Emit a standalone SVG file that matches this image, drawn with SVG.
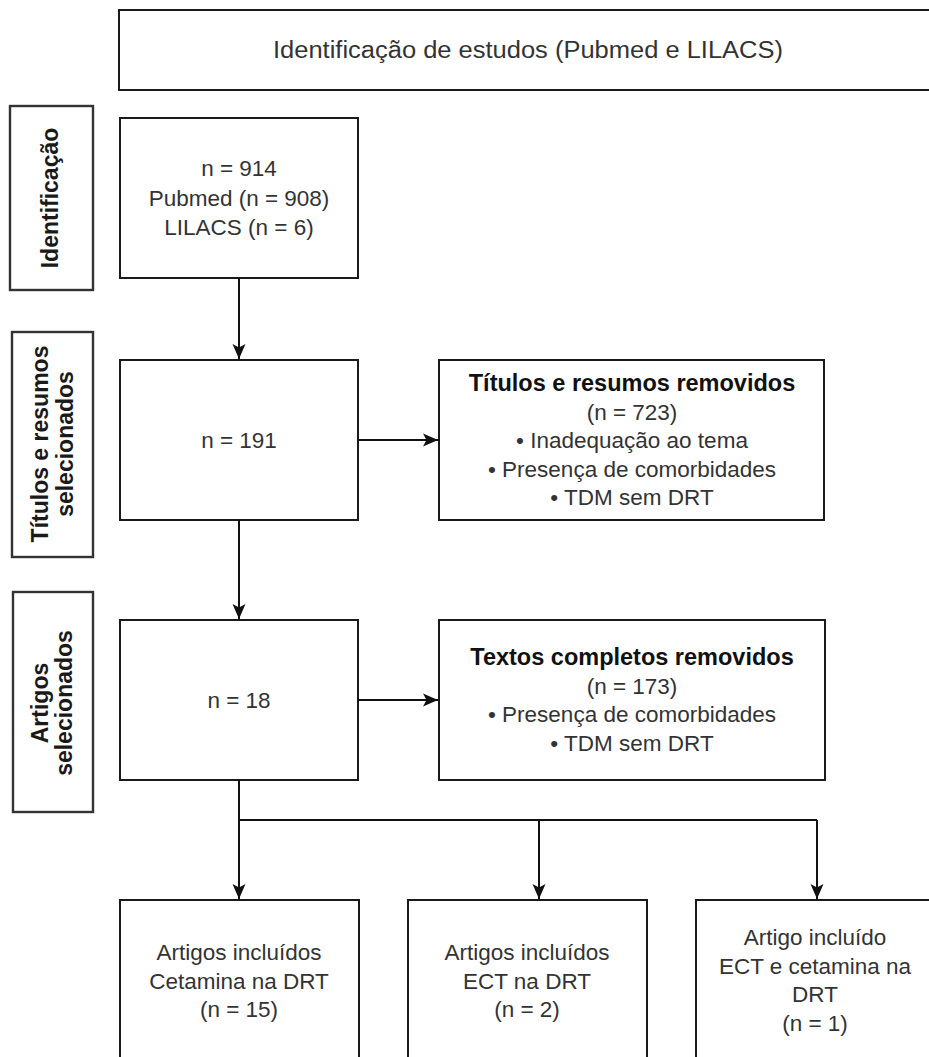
<svg xmlns="http://www.w3.org/2000/svg" width="929" height="1057" viewBox="0 0 929 1057">
<style>
.box{fill:#fff;stroke:#1a1a1a;stroke-width:2}
.side{fill:#fff;stroke:#333;stroke-width:2.4}
.t{font-family:"Liberation Sans",Arial,sans-serif;font-size:22.5px;fill:#333;text-anchor:middle}
.b{font-family:"Liberation Sans",Arial,sans-serif;font-size:23.5px;font-weight:bold;fill:#111;text-anchor:middle}
.s{font-family:"Liberation Sans",Arial,sans-serif;font-size:23px;font-weight:bold;fill:#1a1a1a;text-anchor:middle}
.c{fill:none;stroke:#111;stroke-width:2}
</style>
<defs>
<marker id="arr" markerUnits="userSpaceOnUse" markerWidth="16" markerHeight="16" refX="15" refY="8" orient="auto" viewBox="0 0 16 16">
<path d="M0,1.5 L15,8 L0,14.5 L3.5,8 z" fill="#111"/>
</marker>
</defs>
<rect width="929" height="1057" fill="#fff"/>

<g id="header">
<rect class="box" x="119" y="10" width="820" height="80"/>
<text class="t" x="528" y="58" textLength="510" lengthAdjust="spacingAndGlyphs" style="font-size:23px">Identificação de estudos (Pubmed e LILACS)</text>
</g>

<g id="label-identificacao">
<rect class="side" x="10" y="106" width="83" height="184"/>
<text class="s" transform="translate(58,198) rotate(-90)">Identificação</text>
</g>
<g id="label-titulos">
<rect class="side" x="12" y="332" width="81" height="225"/>
<text class="s" transform="translate(48,444) rotate(-90)">Títulos e resumos<tspan x="0" dy="25">selecionados</tspan></text>
</g>
<g id="label-artigos">
<rect class="side" x="13" y="592" width="80" height="220"/>
<text class="s" transform="translate(48,703) rotate(-90)">Artigos<tspan x="0" dy="24">selecionados</tspan></text>
</g>

<g id="n914">
<rect class="box" x="120" y="118" width="238" height="160"/>
<text class="t" x="239" y="176">n = 914</text>
<text class="t" x="239" y="205.5">Pubmed (n = 908)</text>
<text class="t" x="239" y="235">LILACS (n = 6)</text>
</g>

<g id="n191">
<rect class="box" x="120" y="360" width="238" height="160"/>
<text class="t" x="239" y="448">n = 191</text>
</g>

<g id="removidos1">
<rect class="box" x="439" y="360" width="385" height="160"/>
<text class="b" x="632" y="391">Títulos e resumos removidos</text>
<text class="t" x="632" y="419.5">(n = 723)</text>
<text class="t" x="632" y="448">• Inadequação ao tema</text>
<text class="t" x="632" y="476.5">• Presença de comorbidades</text>
<text class="t" x="632" y="505">• TDM sem DRT</text>
</g>

<g id="n18">
<rect class="box" x="120" y="620" width="238" height="160"/>
<text class="t" x="239" y="708">n = 18</text>
</g>

<g id="removidos2">
<rect class="box" x="439" y="620" width="386" height="160"/>
<text class="b" x="632" y="665">Textos completos removidos</text>
<text class="t" x="632" y="693.5">(n = 173)</text>
<text class="t" x="632" y="722">• Presença de comorbidades</text>
<text class="t" x="632" y="750.5">• TDM sem DRT</text>
</g>

<g id="incl-cetamina">
<rect class="box" x="120" y="900" width="239" height="180"/>
<text class="t" x="239" y="960">Artigos incluídos</text>
<text class="t" x="239" y="988.5">Cetamina na DRT</text>
<text class="t" x="239" y="1017">(n = 15)</text>
</g>

<g id="incl-ect">
<rect class="box" x="408" y="900" width="239" height="180"/>
<text class="t" x="527" y="960">Artigos incluídos</text>
<text class="t" x="527" y="988.5">ECT na DRT</text>
<text class="t" x="527" y="1017">(n = 2)</text>
</g>

<g id="incl-ambos">
<rect class="box" x="696" y="900" width="242" height="180"/>
<text class="t" x="815" y="945">Artigo incluído</text>
<text class="t" x="815" y="973.5">ECT e cetamina na</text>
<text class="t" x="815" y="1002">DRT</text>
<text class="t" x="815" y="1030.5">(n = 1)</text>
</g>

<g id="connectors">
<path class="c" d="M239,278 V359" marker-end="url(#arr)"/>
<path class="c" d="M239,520 V619" marker-end="url(#arr)"/>
<path class="c" d="M358,440 H438" marker-end="url(#arr)"/>
<path class="c" d="M358,700 H438" marker-end="url(#arr)"/>
<path class="c" d="M239,780 V820 H817"/>
<path class="c" d="M239,820 V899" marker-end="url(#arr)"/>
<path class="c" d="M539,820 V899" marker-end="url(#arr)"/>
<path class="c" d="M817,820 V899" marker-end="url(#arr)"/>
</g>
</svg>
